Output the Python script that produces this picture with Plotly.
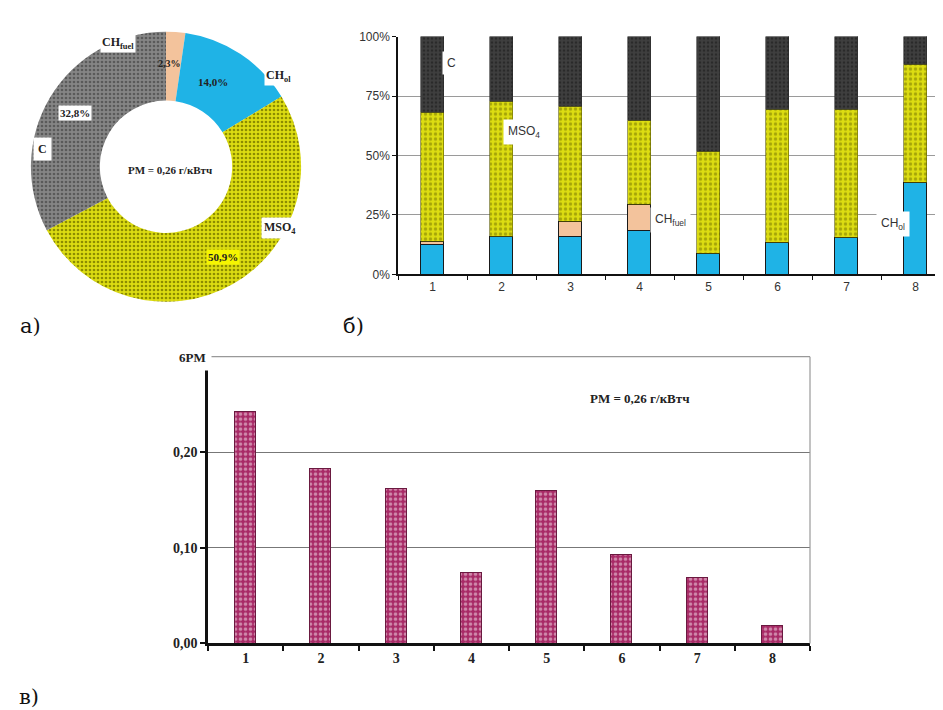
import plotly.graph_objects as go

W, H = 943, 710

# ---------------- data ----------------
pie_labels = ["CH<sub>fuel</sub>", "CH<sub>ol</sub>", "MSO<sub>4</sub>", "C"]
pie_values = [2.3, 14.0, 50.9, 32.8]
pm_text = "PM = 0,26 г/кВтч"

modes = ["1", "2", "3", "4", "5", "6", "7", "8"]
ch_ol = [12.5, 15.9, 16.1, 18.6, 8.7, 13.6, 15.4, 38.6]
ch_fuel = [1.5, 0.0, 6.0, 10.8, 0.0, 0.0, 0.0, 0.0]
mso4 = [54.0, 56.9, 48.4, 35.2, 42.8, 55.9, 54.1, 49.7]
c_part = [32.0, 27.2, 29.5, 35.4, 48.5, 30.5, 30.5, 11.7]
pct_ticks = [0, 25, 50, 75, 100]
pct_ticktext = ["0%", "25%", "50%", "75%", "100%"]

pm_values = [0.242, 0.183, 0.162, 0.074, 0.160, 0.093, 0.069, 0.019]
pm_ticks = [0.0, 0.1, 0.2]
pm_ticktext = ["0,00", "0,10", "0,20"]

# ---------------- helpers ----------------
def px_x(x):
    return x / W

def px_y(y):
    return 1 - y / H

C_CYAN = "#1FB3E6"
C_PEACH = "#F3C39C"
C_YEL = "#DCDC12"
C_DARK = "#3F3F3F"
C_GRAY = "#858585"

fig = go.Figure()

# ---------------- a) donut ----------------
fig.add_trace(go.Pie(
    values=pie_values, labels=pie_labels, sort=False, direction="clockwise",
    rotation=0, hole=0.49, textinfo="none", showlegend=False, hoverinfo="label+value",
    marker=dict(
        colors=[C_PEACH, C_CYAN, C_YEL, C_GRAY],
        pattern=dict(shape=["", "", ".", "."],
                     bgcolor=[C_PEACH, C_CYAN, C_YEL, C_GRAY],
                     fgcolor=[C_PEACH, C_CYAN, "#8C8C00", "#5A5A5A"],
                     size=4, solidity=0.35),
        line=dict(width=0)),
    domain=dict(x=[px_x(20), px_x(296)], y=[px_y(293), px_y(17)]),
))

# ---------------- б) stacked bars ----------------
seg_line = dict(color="#1a1a1a", width=1)
fig.add_trace(go.Bar(x=modes, y=ch_ol, name="CH_ol", xaxis="x", yaxis="y",
                     marker=dict(color=C_CYAN, line=seg_line), width=0.32, showlegend=False))
fig.add_trace(go.Bar(x=modes, y=ch_fuel, name="CH_fuel", xaxis="x", yaxis="y",
                     marker=dict(color=C_PEACH, line=seg_line), width=0.32, showlegend=False))
fig.add_trace(go.Bar(x=modes, y=mso4, name="MSO4", xaxis="x", yaxis="y",
                     marker=dict(color=C_YEL, line=dict(color="#5a5a00", width=0.6),
                                 pattern=dict(shape=".", fgcolor="#6E6E00", size=5, solidity=0.35)),
                     width=0.32, showlegend=False))
fig.add_trace(go.Bar(x=modes, y=c_part, name="C", xaxis="x", yaxis="y",
                     marker=dict(color=C_DARK, line=dict(color="#2a2a2a", width=0.6),
                                 pattern=dict(shape=".", fgcolor="#151515", size=4, solidity=0.35)),
                     width=0.32, showlegend=False))

# ---------------- в) PM bars ----------------
fig.add_trace(go.Bar(x=modes, y=pm_values, name="PM", xaxis="x2", yaxis="y2",
                     marker=dict(color="#A82A66", line=dict(color="#6a1a40", width=1),
                                 pattern=dict(shape=".", fgcolor="#F6EAF0", size=5, solidity=0.42)),
                     width=0.28, showlegend=False))

sans = "Liberation Sans, Arial, sans-serif"
serif = "Liberation Serif, Times New Roman, serif"

fig.update_layout(
    width=W, height=H, margin=dict(l=0, r=0, t=0, b=0),
    paper_bgcolor="white", plot_bgcolor="white", barmode="stack", bargap=0,
    xaxis=dict(domain=[px_x(390), px_x(942)], type="category", range=[-0.5, 7.5],
               showline=True, linecolor="#111", linewidth=1.5, ticks="outside",
               tickson="boundaries", ticklen=4, tickcolor="#111",
               tickfont=dict(family=sans, size=12, color="#333"),
               showgrid=False, anchor="y", fixedrange=True),
    yaxis=dict(domain=[px_y(265), px_y(22)], range=[0, 100], tickvals=pct_ticks,
               ticktext=pct_ticktext, showline=True, linecolor="#111", linewidth=1.5,
               ticks="outside", ticklen=4, tickcolor="#111",
               tickfont=dict(family=sans, size=12, color="#333"),
               showgrid=True, gridcolor="#9a9a9a", gridwidth=1, zeroline=False,
               anchor="x", fixedrange=True),
    xaxis2=dict(domain=[px_x(200), px_x(802)], type="category", range=[-0.5, 7.5],
                showline=True, linecolor="#111", linewidth=2.5, ticks="outside",
                tickson="boundaries", ticklen=5, tickwidth=2, tickcolor="#111",
                tickfont=dict(family=serif, size=14, color="#222", weight="bold"),
                showgrid=False, anchor="y2", fixedrange=True),
    yaxis2=dict(domain=[px_y(642), px_y(349)], range=[0, 0.30], tickvals=pm_ticks,
                ticktext=pm_ticktext, showline=True, linecolor="#111", linewidth=2.5,
                ticks="outside", ticklen=5, tickwidth=2, tickcolor="#111",
                tickfont=dict(family=serif, size=14, color="#222", weight="bold"),
                showgrid=True, gridcolor="#777", gridwidth=1, zeroline=False,
                anchor="x2", fixedrange=True),
)

# frame top/right of plot в
fig.add_shape(type="line", xref="x2 domain", yref="y2 domain", x0=0, x1=1, y0=1, y1=1,
              line=dict(color="#999", width=1.2))
fig.add_shape(type="line", xref="x2 domain", yref="y2 domain", x0=1, x1=1, y0=0, y1=1,
              line=dict(color="#999", width=1.2))

def ann(text, x, y, font, bg=None, pad=1, xanchor="center"):
    fig.add_annotation(text=text, x=px_x(x), y=px_y(y), xref="paper", yref="paper",
                       showarrow=False, font=font, bgcolor=bg, borderpad=pad,
                       xanchor=xanchor, yanchor="middle")

fmt = lambda v: f"{v:.1f}".replace(".", ",") + "%"
pf = dict(family=serif, size=11, color="#222", weight="bold")

# donut labels
ann(pie_labels[0], 110, 29, dict(family=serif, size=12, color="#222", weight="bold"), bg="white")
ann(fmt(pie_values[0]), 161, 50, dict(family=serif, size=10, color="#222", weight="bold"))
ann(fmt(pie_values[1]), 205, 68, pf)
ann(pie_labels[1], 270, 62, dict(family=serif, size=12, color="#222", weight="bold"), bg="white")
ann(fmt(pie_values[3]), 67, 100, pf, bg="white")
ann(pie_labels[3], 34, 137, dict(family=serif, size=12, color="#222", weight="bold"), bg="white", pad=4)
ann(pie_labels[2], 272, 218, dict(family=serif, size=12, color="#222", weight="bold"), bg="white", pad=2)
ann(fmt(pie_values[2]), 215, 247, pf, bg="#F5F500")
ann(pm_text, 162, 158, dict(family=serif, size=11, color="#222", weight="bold"))

# stacked bar labels
lf = dict(family=sans, size=12, color="#333")
ann("C", 443, 49, lf, bg="white", pad=4)
ann("MSO<sub>4</sub>", 516, 120, lf, bg="white", pad=4)
ann("CH<sub>fuel</sub>", 662, 209, lf, bg="white", pad=4)
ann("CH<sub>ol</sub>", 885, 213, lf, bg="white", pad=4)

# PM chart labels
ann("6PM", 184, 350, dict(family=serif, size=13, color="#222", weight="bold"), bg="white", pad=5)
ann(pm_text, 632, 392, dict(family=serif, size=13, color="#222", weight="bold"))

# panel letters
letter_font = dict(family="DejaVu Serif, serif", size=21, color="#111")
ann("а)", 22, 318, letter_font)
ann("б)", 345, 318, letter_font)
ann("в)", 21, 697, letter_font)

fig.write_html("out.html")
